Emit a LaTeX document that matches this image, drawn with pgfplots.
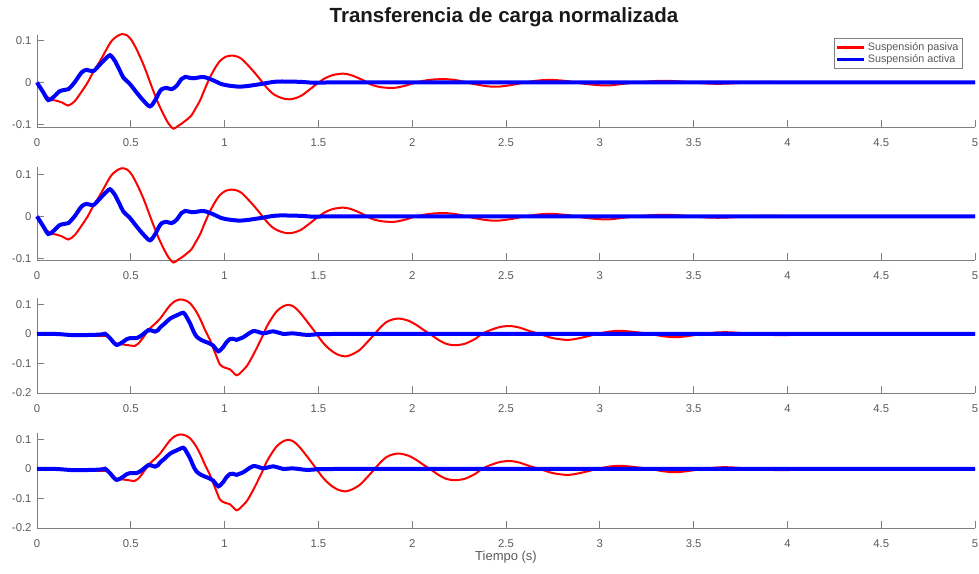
\documentclass[border=0pt]{standalone}
\usepackage{pgfplots}
\usepackage{pgfplotstable}
\usepackage{fontspec}
\setmainfont{Liberation Sans}
\pgfplotsset{compat=1.18}

\pgfplotstableread{
t v
0 0
0.03 -0.022
0.07 -0.040
0.1 -0.043
0.135 -0.048
0.167 -0.055
0.2 -0.045
0.23 -0.027
0.27 0
0.3 0.025
0.336 0.051
0.39 0.094
0.42 0.108
0.451 0.115
0.48 0.112
0.505 0.100
0.535 0.075
0.567 0.043
0.595 0.010
0.62 -0.02
0.645 -0.048
0.673 -0.075
0.70 -0.097
0.727 -0.110
0.75 -0.104
0.771 -0.098
0.80 -0.088
0.824 -0.078
0.845 -0.062
0.869 -0.043
0.895 -0.015
0.922 0.012
0.95 0.035
0.975 0.051
1.005 0.061
1.038 0.064
1.065 0.062
1.091 0.056
1.12 0.043
1.153 0.027
1.19 0.007
1.224 -0.012
1.255 -0.026
1.286 -0.034
1.32 -0.039
1.349 -0.040
1.38 -0.037
1.411 -0.031
1.45 -0.018
1.49 -0.004
1.535 0.010
1.58 0.018
1.633 0.021
1.67 0.018
1.70 0.013
1.74 0.005
1.775 -0.004
1.83 -0.011
1.9 -0.013
1.96 -0.008
2.02 0
2.09 0.006
2.17 0.008
2.24 0.005
2.32 -0.003
2.40 -0.009
2.46 -0.010
2.53 -0.006
2.6 0
2.68 0.005
2.75 0.006
2.83 0.003
2.9 -0.002
2.98 -0.006
3.05 -0.007
3.13 -0.003
3.2 0
3.28 0.003
3.36 0.004
3.44 0.002
3.52 -0.001
3.6 -0.003
3.66 -0.003
3.75 -0.001
3.85 0.001
3.95 0.001
4.1 0
4.5 0
5 0
}\redA

\pgfplotstableread{
t v
0 0
0.034 -0.024
0.06 -0.042
0.087 -0.035
0.12 -0.021
0.145 -0.018
0.167 -0.016
0.2 0
0.238 0.024
0.265 0.030
0.3 0.027
0.336 0.043
0.371 0.059
0.389 0.065
0.405 0.058
0.416 0.051
0.44 0.030
0.46 0.012
0.496 -0.004
0.531 -0.024
0.567 -0.043
0.602 -0.057
0.629 -0.043
0.65 -0.025
0.665 -0.016
0.691 -0.013
0.718 -0.016
0.744 -0.008
0.77 0.008
0.789 0.013
0.833 0.010
0.887 0.013
0.94 0.005
0.984 -0.004
1.03 -0.008
1.082 -0.010
1.13 -0.008
1.19 -0.004
1.278 0.002
1.4 0.0015
1.49 -0.001
1.6 0
3 0
5 0
}\blueA

\pgfplotstableread{
t v
0 0
0.1 -0.001
0.2 -0.004
0.3 -0.006
0.37 -0.007
0.395 -0.018
0.416 -0.031
0.45 -0.035
0.478 -0.037
0.522 -0.040
0.549 -0.026
0.575 -0.004
0.602 0.019
0.63 0.035
0.656 0.052
0.685 0.077
0.709 0.097
0.735 0.111
0.762 0.117
0.79 0.114
0.816 0.104
0.845 0.080
0.869 0.052
0.895 0.015
0.922 -0.02
0.95 -0.065
0.975 -0.103
1.0 -0.114
1.029 -0.12
1.064 -0.14
1.09 -0.128
1.118 -0.109
1.145 -0.08
1.171 -0.048
1.2 -0.010
1.224 0.024
1.25 0.052
1.278 0.077
1.31 0.093
1.34 0.099
1.37 0.092
1.40 0.074
1.445 0.038
1.49 0
1.525 -0.030
1.562 -0.053
1.6 -0.069
1.642 -0.076
1.68 -0.069
1.722 -0.053
1.76 -0.028
1.80 0
1.83 0.022
1.864 0.041
1.9 0.050
1.935 0.052
1.98 0.045
2.024 0.030
2.06 0.014
2.095 0
2.14 -0.02
2.18 -0.033
2.22 -0.038
2.26 -0.036
2.29 -0.031
2.34 -0.015
2.37 0
2.42 0.014
2.47 0.024
2.52 0.027
2.57 0.022
2.63 0.009
2.68 0
2.75 -0.014
2.83 -0.02
2.9 -0.013
2.985 0
3.05 0.008
3.11 0.011
3.18 0.007
3.27 0
3.34 -0.008
3.41 -0.011
3.48 -0.006
3.55 0
3.62 0.005
3.68 0.006
3.76 0.003
3.84 0
3.91 -0.003
3.98 -0.004
4.06 -0.002
4.14 0
4.25 0.001
4.4 0
5 0
}\redB

\pgfplotstableread{
t v
0 0
0.1 0
0.15 -0.002
0.2 -0.004
0.3 -0.003
0.35 -0.001
0.363 0.001
0.389 -0.014
0.41 -0.030
0.425 -0.037
0.445 -0.032
0.46 -0.026
0.48 -0.017
0.496 -0.014
0.531 -0.014
0.55 -0.008
0.567 0
0.593 0.013
0.61 0.012
0.629 0.008
0.645 0.013
0.656 0.022
0.68 0.035
0.709 0.052
0.744 0.063
0.78 0.072
0.795 0.060
0.816 0.036
0.835 0.008
0.851 -0.009
0.875 -0.02
0.896 -0.026
0.92 -0.032
0.94 -0.040
0.955 -0.052
0.967 -0.059
0.98 -0.053
0.993 -0.044
1.01 -0.028
1.029 -0.017
1.045 -0.016
1.064 -0.02
1.08 -0.016
1.1 -0.011
1.125 0
1.153 0.010
1.18 0.007
1.206 0.002
1.235 0.006
1.26 0.009
1.29 0.004
1.313 0
1.366 0.002
1.437 -0.003
1.5 -0.001
1.6 0
3 0
5 0
}\blueB

\definecolor{axgray}{RGB}{128,128,128}
\definecolor{lblgray}{RGB}{90,90,90}

\pgfplotsset{
  mlax/.style={
    scale only axis,
    width=938pt,
    xmin=0, xmax=5,
    axis x line*=bottom,
    axis y line*=left,
    axis line style={axgray, line width=0.8pt},
    tick style={axgray, line width=0.8pt},
    tick align=inside,
    major tick length=7pt,
    xtick={0,0.5,1,1.5,2,2.5,3,3.5,4,4.5,5},
    xticklabels={0,0.5,1,1.5,2,2.5,3,3.5,4,4.5,5},
    tick label style={font=\fontsize{11.3}{13}\selectfont, text=lblgray},
    xticklabel style={yshift=-8pt},
    yticklabel style={xshift=-2pt},
    clip=false,
  },
  redst/.style={red, line width=2pt, smooth, tension=0.5},
  bluest/.style={blue, line width=4pt, smooth, tension=0.5},
}

\begin{document}
\begin{tikzpicture}
\path[use as bounding box] (0,0) rectangle (979pt,573pt);

\begin{axis}[mlax, height=92pt, at={(37pt,446pt)}, anchor=south west,
  ymin=-0.106, ymax=0.113,
  ytick={-0.1,0,0.1}, yticklabels={-0.1,0,0.1},
  legend style={at={(rel axis cs:0.987,0.967)}, anchor=north east,
    draw=axgray, line width=0.6pt, fill=white,
    font=\fontsize{10.8}{12}\selectfont, text=lblgray,
    inner sep=2pt, row sep=-1pt},
  legend cell align=left,
  legend image code/.code={\draw[#1, line width=3pt] (0pt,0pt) -- (27pt,0pt);},
]
\addplot[redst] table[x=t,y=v] {\redA};
\addlegendentry{Suspensión pasiva}
\addplot[bluest] table[x=t,y=v] {\blueA};
\addlegendentry{Suspensión activa}
\end{axis}

\begin{axis}[mlax, height=93pt, at={(37pt,313pt)}, anchor=south west,
  ymin=-0.104, ymax=0.118,
  ytick={-0.1,0,0.1}, yticklabels={-0.1,0,0.1},
]
\addplot[redst] table[x=t,y=v] {\redA};
\addplot[bluest] table[x=t,y=v] {\blueA};
\end{axis}

\begin{axis}[mlax, height=95pt, at={(37pt,180pt)}, anchor=south west,
  ymin=-0.2, ymax=0.122,
  ytick={-0.2,-0.1,0,0.1}, yticklabels={-0.2,-0.1,0,0.1},
]
\addplot[redst] table[x=t,y=v] {\redB};
\addplot[bluest] table[x=t,y=v] {\blueB};
\end{axis}

\begin{axis}[mlax, height=95pt, at={(37pt,45pt)}, anchor=south west,
  ymin=-0.2, ymax=0.122,
  ytick={-0.2,-0.1,0,0.1}, yticklabels={-0.2,-0.1,0,0.1},
]
\addplot[redst] table[x=t,y=v] {\redB};
\addplot[bluest] table[x=t,y=v] {\blueB};
\end{axis}

\node[font=\bfseries\fontsize{20.5}{22}\selectfont, text=black!90] at (504pt,556pt) {Transferencia de carga normalizada};
\node[font=\fontsize{13}{15}\selectfont, text=lblgray] at (506pt,16pt) {Tiempo (s)};
\end{tikzpicture}
\end{document}
